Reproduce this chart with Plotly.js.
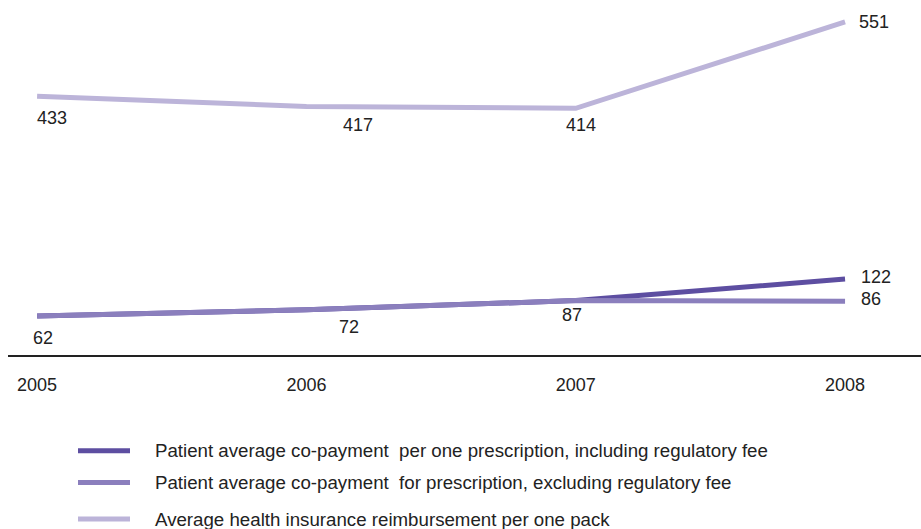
<!DOCTYPE html>
<html>
<head>
<meta charset="utf-8">
<script src="https://cdn.plot.ly/plotly-3.0.1.min.js"></script>
<style>html,body{margin:0;padding:0;background:#fff;}#chart{width:921px;height:529px;}</style>
</head>
<body>
<div id="chart"></div>
<script>
// Data
const years = [2005, 2006, 2007, 2008];
const copayIncl = [62, 72, 87, 122];
const copayExcl = [62, 72, 87, 86];
const reimbursement = [433, 417, 414, 551];
const seriesNames = [
  "Patient average co-payment  per one prescription, including regulatory fee",
  "Patient average co-payment  for prescription, excluding regulatory fee",
  "Average health insurance reimbursement per one pack"
];
const tickLabels = ["2005", "2006", "2007", "2008"];

const colors = ["#5d4ea1", "#8b7fbd", "#bcb4d9"];
const FONT = "Liberation Sans, Arial, sans-serif";

// layout geometry
const W = 921, H = 529, L = 8, R = 0, T = 0, B = 174;
const pw = W - L - R, ph = H - T - B;
const px2paperX = p => (p - L) / pw;
const px2paperY = p => (T + ph - p) / ph;

const traces = [
  {x: years, y: copayIncl, name: seriesNames[0], mode: "lines", line: {color: colors[0], width: 5}, yaxis: "y", showlegend: false, hoverinfo: "x+y"},
  {x: years, y: copayExcl, name: seriesNames[1], mode: "lines", line: {color: colors[1], width: 5}, yaxis: "y", showlegend: false, hoverinfo: "x+y"},
  {x: years, y: reimbursement, name: seriesNames[2], mode: "lines", line: {color: colors[2], width: 5}, yaxis: "y2", showlegend: false, hoverinfo: "x+y"}
];

// value labels
const annotations = [];
function lab(x, y, yref, xs, ys) {
  annotations.push({x: x, y: y, xref: "x", yref: yref, text: String(y), showarrow: false,
    xanchor: "center", yanchor: "middle", xshift: xs, yshift: ys,
    font: {family: FONT, size: 18, color: "#222"}});
}
const topShifts = [[15, -22], [52, -19], [5, -17], [29, 0]];
reimbursement.forEach((v, i) => lab(years[i], v, "y2", topShifts[i][0], topShifts[i][1]));
const lowShifts = [[6, -22], [43, -17], [-4, -14]];
for (let i = 0; i < 3; i++) lab(years[i], copayIncl[i], "y", lowShifts[i][0], lowShifts[i][1]);
lab(years[3], copayIncl[3], "y", 31, 2);
lab(years[3], copayExcl[3], "y", 26, 2);

// custom legend
const shapes = [];
const legY = [450.7, 482.5, 519];
seriesNames.forEach((n, i) => {
  shapes.push({type: "line", xref: "paper", yref: "paper",
    x0: px2paperX(78), x1: px2paperX(130), y0: px2paperY(legY[i]), y1: px2paperY(legY[i]),
    line: {color: colors[i], width: 5}});
  annotations.push({xref: "paper", yref: "paper", x: px2paperX(153), y: px2paperY(legY[i]),
    text: n, showarrow: false, xanchor: "left", yanchor: "middle",
    font: {family: FONT, size: 18.7, color: "#222"}});
});

const layout = {
  width: W, height: H,
  margin: {l: L, r: R, t: T, b: B, pad: 0},
  paper_bgcolor: "#fff", plot_bgcolor: "#fff",
  showlegend: false,
  font: {family: FONT, size: 18, color: "#222"},
  xaxis: {
    type: "linear", range: [2004.892, 2008.282],
    tickvals: years, ticktext: tickLabels,
    showgrid: false, zeroline: false,
    showline: true, linecolor: "#222", linewidth: 1.5,
    ticks: "outside", ticklen: 13, tickcolor: "rgba(0,0,0,0)",
    tickfont: {family: FONT, size: 18, color: "#222"}
  },
  yaxis: {range: [-1.2, 574.2], visible: false, showgrid: false, zeroline: false},
  yaxis2: {range: [22.4, 585.9], overlaying: "y", visible: false, showgrid: false, zeroline: false},
  annotations: annotations,
  shapes: shapes
};

Plotly.newPlot("chart", traces, layout, {displayModeBar: false, staticPlot: true});
</script>
</body>
</html>
